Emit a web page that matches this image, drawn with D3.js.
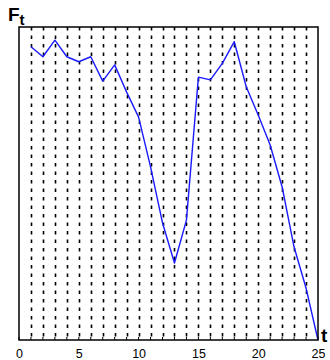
<!DOCTYPE html>
<html>
<head>
<meta charset="utf-8">
<script src="https://cdn.jsdelivr.net/npm/d3@7"></script>
<style>
  html, body { margin: 0; padding: 0; background: #fff; }
  svg { display: block; }
</style>
</head>
<body>
<svg id="chart" width="330" height="360"></svg>
<script>
// Data
const tValues = [1, 2, 3, 4, 5, 6, 7, 8, 9, 10, 11, 12, 13, 14, 15, 16, 17, 18, 19, 20, 21, 22, 23, 24, 25];
const fValues = [93.7, 90.5, 95.8, 90.5, 88.9, 90.5, 82.7, 87.9, 79.2, 71.2, 55.3, 37.4, 24.6, 38.3, 84.0, 83.1, 88.4, 95.3, 80.9, 71.9, 62.3, 48.9, 29.7, 16.6, 0];
const xTickLabels = [0, 5, 10, 15, 20, 25];
const gridPositions = d3.range(1, 25);
const minorTicks = d3.range(0, 26);

const svg = d3.select("#chart");
const margin = { left: 19, top: 27, right: 12, bottom: 20 };
const W = 330, H = 360;
const x = d3.scaleLinear().domain([0, 25]).range([margin.left, W - margin.right]);
const y = d3.scaleLinear().domain([0, 100]).range([H - margin.bottom, margin.top]);

// dotted vertical grid lines
svg.append("g").selectAll("line").data(gridPositions).join("line")
  .attr("x1", d => Math.round(x(d)) + 0.5).attr("x2", d => Math.round(x(d)) + 0.5)
  .attr("y1", y(100)).attr("y2", y(0))
  .attr("stroke", "#000").attr("stroke-width", 1.6)
  .attr("stroke-dasharray", "3.5,5");

// bottom axis
const xAxis = d3.axisBottom(x).tickValues(xTickLabels).tickSize(0).tickPadding(9)
  .tickFormat(d3.format("d"));
const gx = svg.append("g").attr("transform", `translate(0,${y(0)})`).call(xAxis);
gx.select(".domain").remove();
gx.selectAll("text").attr("font-family", "Liberation Sans, Arial, sans-serif")
  .attr("font-size", 12.5).attr("fill", "#000");

// minor ticks pointing inward
svg.append("g").selectAll("line").data(minorTicks).join("line")
  .attr("x1", d => x(d)).attr("x2", d => x(d))
  .attr("y1", y(0)).attr("y2", y(0) - 3)
  .attr("stroke", "#000").attr("stroke-width", 1);

// line
const line = d3.line().x((d, i) => x(tValues[i])).y(d => y(d));
svg.append("path").datum(fValues)
  .attr("d", line).attr("fill", "none")
  .attr("stroke", "#1a1aff").attr("stroke-width", 1.4)
  .attr("stroke-linejoin", "round");

// frame
svg.append("rect")
  .attr("x", x(0)).attr("y", y(100))
  .attr("width", x(25) - x(0)).attr("height", y(0) - y(100))
  .attr("fill", "none").attr("stroke", "#000").attr("stroke-width", 1.5);

// labels
const fl = svg.append("text").attr("x", 8).attr("y", 21)
  .attr("font-family", "Liberation Sans, Arial, sans-serif")
  .attr("font-weight", "bold").attr("fill", "#000");
fl.append("tspan").attr("font-size", 19).text("F");
fl.append("tspan").attr("font-size", 15).attr("dy", 4).text("t");

svg.append("text").attr("x", 321).attr("y", 342)
  .attr("font-family", "Liberation Sans, Arial, sans-serif")
  .attr("font-weight", "bold").attr("font-size", 19).attr("fill", "#000")
  .text("t");
</script>
</body>
</html>
